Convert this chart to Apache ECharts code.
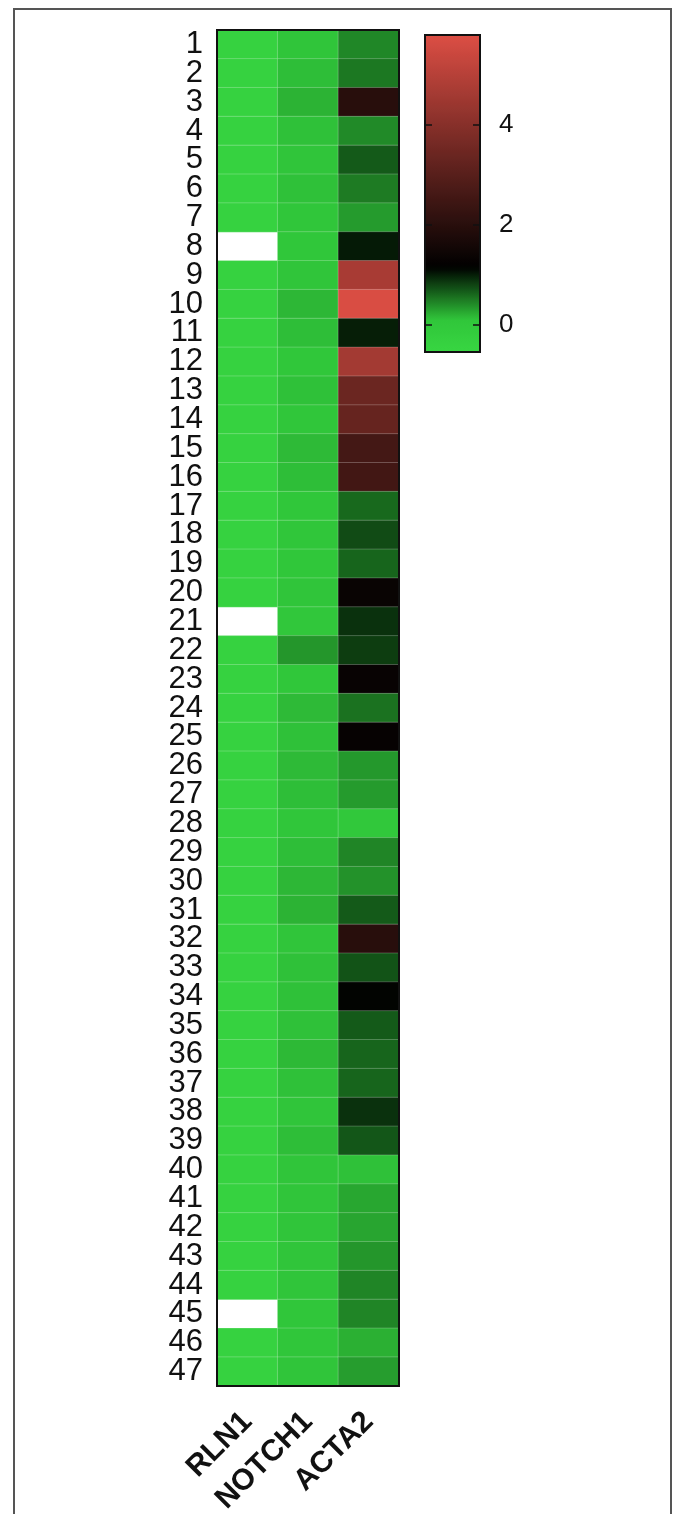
<!DOCTYPE html>
<html>
<head>
<meta charset="utf-8">
<script src="https://cdn.jsdelivr.net/npm/echarts@6/dist/echarts.min.js"></script>
<style>
  html, body { margin: 0; padding: 0; background: #fff; }
  #main { width: 673px; height: 1514px; }
</style>
</head>
<body>
<div id="main"></div>
<script>
// genes (columns) and samples (rows)
var genes = ['RLN1', 'NOTCH1', 'ACTA2'];
var samples = [];
for (var s = 1; s <= 47; s++) samples.push(String(s));

// values, row 1..47 (null = no value, white cell)
var rln1 = [
  -0.4, -0.4, -0.4, -0.4, -0.4, -0.4, -0.4, null, -0.4, -0.4,
  -0.4, -0.4, -0.4, -0.4, -0.4, -0.4, -0.4, -0.4, -0.4, -0.4,
  null, -0.4, -0.4, -0.4, -0.4, -0.4, -0.4, -0.4, -0.4, -0.4,
  -0.4, -0.4, -0.4, -0.4, -0.4, -0.4, -0.4, -0.4, -0.4, -0.4,
  -0.4, -0.4, -0.4, -0.4, null, -0.4, -0.4
];
var notch1 = [
  0.1, 0.14, 0.2, 0.12, 0.1, 0.12, 0.08, 0.06, 0.1, 0.18,
  0.14, 0.06, 0.12, 0.08, 0.16, 0.14, 0.06, 0.08, 0.06, 0.1,
  0.05, 0.36, 0.06, 0.16, 0.12, 0.16, 0.14, 0.08, 0.14, 0.18,
  0.2, 0.1, 0.12, 0.12, 0.12, 0.17, 0.12, 0.1, 0.14, 0.1,
  0.1, 0.1, 0.1, 0.1, 0.08, 0.08, 0.1
];
var acta2 = [
  0.44, 0.52, 2.0, 0.42, 0.68, 0.5, 0.33, 1.02, 4.7, 5.75,
  1.0, 4.6, 3.4, 3.3, 2.6, 2.55, 0.6, 0.76, 0.62, 1.35,
  0.9, 0.84, 1.33, 0.55, 1.28, 0.35, 0.33, 0.02, 0.45, 0.38,
  0.68, 2.0, 0.72, 1.15, 0.68, 0.62, 0.62, 0.9, 0.7, 0.12,
  0.27, 0.28, 0.36, 0.45, 0.45, 0.22, 0.32
];

// colour bar
var barMin = -0.54, barMax = 5.8;
var barTicks = [0, 2, 4];
var colorAnchors = [
  [-0.54, [56, 214, 66]],
  [0.1, [48, 198, 58]],
  [0.95, [8, 40, 10]],
  [1.15, [0, 0, 0]],
  [5.8, [220, 78, 68]]
];

function colorAt(v) {
  for (var i = 1; i < colorAnchors.length; i++) {
    var a = colorAnchors[i - 1], b = colorAnchors[i];
    if (v <= b[0]) {
      var t = (v - a[0]) / (b[0] - a[0]);
      var c = [0, 1, 2].map(function (k) { return Math.round(a[1][k] + (b[1][k] - a[1][k]) * t); });
      return 'rgb(' + c.join(',') + ')';
    }
  }
  return 'rgb(' + colorAnchors[colorAnchors.length - 1][1].join(',') + ')';
}
var rampColors = [];
for (var i = 0; i <= 80; i++) rampColors.push(colorAt(barMin + (barMax - barMin) * i / 80));

var cols = [rln1, notch1, acta2];
var cells = [];
cols.forEach(function (col, x) {
  col.forEach(function (v, y) {
    if (v !== null) cells.push([x, y, v]);
  });
});

var chart = echarts.init(document.getElementById('main'));
var tickStyle = { show: true, inside: true, length: 7, customValues: barTicks, lineStyle: { color: '#111', width: 1.5 } };
var option = {
  backgroundColor: '#fff',
  animation: false,
  textStyle: { fontFamily: 'Liberation Sans, Arial, sans-serif' },
  graphic: [{
    type: 'rect',
    shape: { x: 14, y: 9, width: 657, height: 1540 },
    style: { fill: 'none', stroke: '#555', lineWidth: 2 },
    silent: true
  }],
  grid: [
    { left: 217, top: 30, width: 182, height: 1356, show: true, z: 3, outerBoundsMode: 'none',
      backgroundColor: 'transparent', borderColor: '#111', borderWidth: 2 },
    { left: 425, top: 35, width: 55, height: 317, show: true, zlevel: 1, outerBoundsMode: 'none',
      backgroundColor: 'transparent', borderColor: '#111', borderWidth: 2 }
  ],
  xAxis: [
    { type: 'category', data: genes, gridIndex: 0, position: 'bottom',
      axisLine: { show: false }, axisTick: { show: false }, splitLine: { show: false },
      axisLabel: { rotate: 45, interval: 0, margin: 31, fontSize: 30, fontWeight: 'bold', color: '#111' } },
    { type: 'value', gridIndex: 1, show: false, min: 0, max: 1 }
  ],
  yAxis: [
    { type: 'category', data: samples, gridIndex: 0, inverse: true,
      axisLine: { show: false }, axisTick: { show: false }, splitLine: { show: false },
      axisLabel: { interval: 0, margin: 14, fontSize: 31, color: '#111' } },
    { type: 'value', gridIndex: 1, min: barMin, max: barMax, position: 'right', zlevel: 1,
      axisLine: { show: false, onZero: false }, splitLine: { show: false },
      axisTick: tickStyle,
      axisLabel: { show: true, margin: 19, fontSize: 26, color: '#111', customValues: barTicks } },
    { type: 'value', gridIndex: 1, min: barMin, max: barMax, position: 'left', zlevel: 1,
      axisLine: { show: false, onZero: false }, splitLine: { show: false },
      axisTick: tickStyle,
      axisLabel: { show: false } }
  ],
  visualMap: {
    type: 'continuous',
    seriesIndex: 0,
    min: barMin,
    max: barMax,
    calculable: false,
    realtime: false,
    left: 425,
    top: 35,
    itemWidth: 55,
    itemHeight: 317,
    padding: 0,
    text: null,
    inRange: { color: rampColors }
  },
  series: [{
    type: 'heatmap',
    xAxisIndex: 0,
    yAxisIndex: 0,
    data: cells,
    itemStyle: { borderColor: 'rgba(255,255,255,0.22)', borderWidth: 1 },
    emphasis: { disabled: true }
  }]
};
option && chart.setOption(option);
</script>
</body>
</html>
